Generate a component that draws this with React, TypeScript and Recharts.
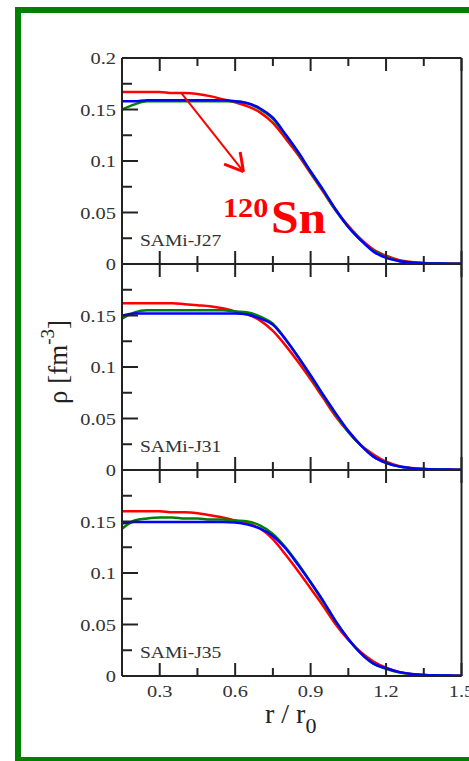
import { LineChart, Line, XAxis, YAxis, ReferenceLine } from "recharts";

// r / r0 grid
const rValues = [
  0.15, 0.2, 0.25, 0.3, 0.35, 0.4, 0.45, 0.5, 0.55, 0.6, 0.65, 0.7, 0.75, 0.8,
  0.85, 0.9, 0.95, 1.0, 1.05, 1.1, 1.15, 1.2, 1.25, 1.3, 1.35, 1.4, 1.45, 1.5,
];

// SAMi-J27
const red27 = [0.167, 0.167, 0.167, 0.167, 0.166, 0.166, 0.165, 0.163, 0.16, 0.157, 0.153, 0.147, 0.137, 0.122, 0.106, 0.088, 0.07, 0.052, 0.037, 0.024, 0.014, 0.008, 0.004, 0.002, 0.001, 0.0006, 0.0004, 0.0002];
const green27 = [0.15, 0.155, 0.158, 0.158, 0.158, 0.158, 0.158, 0.158, 0.158, 0.158, 0.156, 0.15, 0.141, 0.125, 0.108, 0.089, 0.071, 0.052, 0.036, 0.023, 0.013, 0.007, 0.003, 0.0015, 0.0008, 0.0005, 0.0003, 0.0002];
const blue27 = [0.158, 0.158, 0.159, 0.159, 0.159, 0.159, 0.159, 0.159, 0.159, 0.158, 0.156, 0.151, 0.142, 0.126, 0.109, 0.09, 0.072, 0.053, 0.036, 0.023, 0.012, 0.006, 0.003, 0.0015, 0.0008, 0.0005, 0.0003, 0.0002];

// SAMi-J31
const red31 = [0.162, 0.162, 0.162, 0.162, 0.162, 0.161, 0.16, 0.159, 0.157, 0.154, 0.151, 0.145, 0.135, 0.121, 0.105, 0.088, 0.07, 0.052, 0.037, 0.024, 0.015, 0.008, 0.004, 0.002, 0.001, 0.0006, 0.0004, 0.0002];
const green31 = [0.147, 0.153, 0.155, 0.155, 0.155, 0.155, 0.155, 0.155, 0.155, 0.154, 0.153, 0.149, 0.142, 0.127, 0.11, 0.091, 0.072, 0.054, 0.037, 0.024, 0.013, 0.007, 0.0035, 0.0018, 0.001, 0.0006, 0.0004, 0.0002];
const blue31 = [0.15, 0.152, 0.152, 0.152, 0.152, 0.152, 0.152, 0.152, 0.152, 0.152, 0.151, 0.147, 0.141, 0.127, 0.11, 0.092, 0.073, 0.055, 0.038, 0.024, 0.013, 0.007, 0.0035, 0.0018, 0.001, 0.0006, 0.0004, 0.0002];

// SAMi-J35
const red35 = [0.16, 0.16, 0.16, 0.16, 0.159, 0.159, 0.158, 0.156, 0.154, 0.151, 0.148, 0.143, 0.133, 0.118, 0.102, 0.085, 0.068, 0.05, 0.035, 0.023, 0.014, 0.008, 0.004, 0.002, 0.001, 0.0006, 0.0004, 0.0002];
const green35 = [0.143, 0.151, 0.153, 0.154, 0.154, 0.153, 0.153, 0.152, 0.152, 0.151, 0.15, 0.146, 0.138, 0.125, 0.109, 0.091, 0.072, 0.053, 0.036, 0.022, 0.012, 0.007, 0.0035, 0.0018, 0.001, 0.0006, 0.0004, 0.0002];
const blue35 = [0.148, 0.1495, 0.1495, 0.1495, 0.1495, 0.1495, 0.1495, 0.1495, 0.1495, 0.149, 0.147, 0.143, 0.136, 0.124, 0.108, 0.091, 0.073, 0.053, 0.036, 0.022, 0.012, 0.0075, 0.004, 0.002, 0.001, 0.0006, 0.0004, 0.0002];

const xTicks = [0.3, 0.45, 0.6, 0.75, 0.9, 1.05, 1.2, 1.35, 1.5];
const xLabels = [0.3, 0.6, 0.9, 1.2, 1.5];
const yTicks = [0, 0.025, 0.05, 0.075, 0.1, 0.125, 0.15, 0.175, 0.2];
const yLabels = [0, 0.05, 0.1, 0.15, 0.2];

// arrow in the top panel (data coords)
const arrowShaft = [{ x: 0.387, y: 0.1657 }, { x: 0.633, y: 0.0896 }];
const arrowArmA = [{ x: 0.556, y: 0.097 }, { x: 0.633, y: 0.0896 }];
const arrowArmB = [{ x: 0.62, y: 0.1087 }, { x: 0.633, y: 0.0896 }];

const FONT = "'Liberation Serif', 'Times New Roman', serif";
const AXIS = "#222";
const PLOT_H = 206;

const isMajor = (v: number, list: number[]) => list.some((m) => Math.abs(m - v) < 1e-9);

// ticks point into the plot, labels sit outside
const xTick = (dir: number, showLabel: boolean) => (p: any) => {
  const v = p.payload.value;
  const major = isMajor(v, xLabels);
  const len = major ? 13 : 8;
  return (
    <g>
      <line x1={p.x} y1={p.y} x2={p.x} y2={p.y - dir * len} stroke={AXIS} strokeWidth={2} />
      {showLabel && major && (
        <text
          transform={`translate(${p.x},${p.y + 21}) scale(1.2,1)`}
          textAnchor="middle"
          fontFamily={FONT}
          fontSize={17}
          fill="#333"
        >
          {String(v)}
        </text>
      )}
    </g>
  );
};

const yTick = (dir: number, showLabel: boolean, showTop: boolean) => (p: any) => {
  const v = p.payload.value;
  const major = isMajor(v, yLabels);
  const len = major ? 16 : 10;
  const label = showLabel && major && (showTop || v < 0.19);
  return (
    <g>
      <line x1={p.x} y1={p.y} x2={p.x + dir * len} y2={p.y} stroke={AXIS} strokeWidth={2} />
      {label && (
        <text
          transform={`translate(${p.x - 6},${p.y}) scale(1.2,1)`}
          textAnchor="end"
          dy="0.36em"
          fontFamily={FONT}
          fontSize={17}
          fill="#333"
        >
          {String(v)}
        </text>
      )}
    </g>
  );
};

interface PanelProps {
  red: number[];
  green: number[];
  blue: number[];
  top: number;
  first?: boolean;
  last?: boolean;
}

function Panel({ red, green, blue, top, first, last }: PanelProps) {
  const data = rValues.map((r, i) => ({ r, red: red[i], green: green[i], blue: blue[i] }));
  const bottomSpace = last ? 40 : 10;
  const axisLine = { stroke: AXIS, strokeWidth: 2 };
  return (
    <div style={{ position: "absolute", left: 0, top: top - 10 }}>
      <LineChart
        width={469}
        height={10 + PLOT_H + bottomSpace}
        data={data}
        margin={{ top: 9, right: 6.5, bottom: bottomSpace - 1, left: 121 }}
      >
        <XAxis
          xAxisId="b"
          dataKey="r"
          type="number"
          domain={[0.15, 1.5]}
          allowDataOverflow
          ticks={xTicks}
          interval={0}
          height={1}
          tickSize={0}
          tickMargin={0}
          tickLine={false}
          axisLine={axisLine}
          tick={xTick(1, !!last)}
        />
        <XAxis
          xAxisId="t"
          orientation="top"
          dataKey="r"
          type="number"
          domain={[0.15, 1.5]}
          allowDataOverflow
          ticks={xTicks}
          interval={0}
          height={1}
          tickSize={0}
          tickMargin={0}
          tickLine={false}
          axisLine={axisLine}
          tick={xTick(-1, false)}
        />
        <YAxis
          yAxisId="l"
          type="number"
          domain={[0, 0.2]}
          ticks={yTicks}
          interval={0}
          width={1}
          tickSize={0}
          tickMargin={0}
          tickLine={false}
          axisLine={axisLine}
          tick={yTick(1, true, !!first)}
        />
        <YAxis
          yAxisId="r"
          orientation="right"
          type="number"
          domain={[0, 0.2]}
          ticks={yTicks}
          interval={0}
          width={1}
          tickSize={0}
          tickMargin={0}
          tickLine={false}
          axisLine={axisLine}
          tick={yTick(-1, false, false)}
        />
        <Line xAxisId="b" yAxisId="l" type="monotone" dataKey="red" stroke="#ff0000" strokeWidth={2.5} dot={false} isAnimationActive={false} />
        <Line xAxisId="b" yAxisId="l" type="monotone" dataKey="green" stroke="#008000" strokeWidth={2.5} dot={false} isAnimationActive={false} />
        <Line xAxisId="b" yAxisId="l" type="monotone" dataKey="blue" stroke="#0000ff" strokeWidth={2.5} dot={false} isAnimationActive={false} />
        {first && (
          <ReferenceLine xAxisId="b" yAxisId="l" segment={arrowShaft} stroke="#ff0000" strokeWidth={2} />
        )}
        {first && (
          <ReferenceLine xAxisId="b" yAxisId="l" segment={arrowArmA} stroke="#ff0000" strokeWidth={3} />
        )}
        {first && (
          <ReferenceLine xAxisId="b" yAxisId="l" segment={arrowArmB} stroke="#ff0000" strokeWidth={3} />
        )}
      </LineChart>
    </div>
  );
}

export default function App() {
  const panelTops = [58, 264, 470];
  const names = ["SAMi-J27", "SAMi-J31", "SAMi-J35"];
  return (
    <div
      style={{
        position: "absolute",
        left: 0,
        top: 0,
        width: 469,
        height: 761,
        overflow: "hidden",
        background: "#fff",
      }}
    >
      <div
        style={{
          position: "absolute",
          left: 15,
          top: 7,
          width: 470,
          height: 756,
          border: "6px solid #008000",
          boxSizing: "border-box",
        }}
      />
      <Panel red={red27} green={green27} blue={blue27} top={panelTops[0]} first />
      <Panel red={red31} green={green31} blue={blue31} top={panelTops[1]} />
      <Panel red={red35} green={green35} blue={blue35} top={panelTops[2]} last />

      <svg
        width={469}
        height={761}
        style={{ position: "absolute", left: 0, top: 0, pointerEvents: "none" }}
      >
        {names.map((n, i) => (
          <text
            key={n}
            transform={`translate(140,${panelTops[i] + PLOT_H - 18}) scale(1.15,1)`}
            fontFamily={FONT}
            fontSize={17}
            fill="#333"
          >
            {n}
          </text>
        ))}
        <text
          transform="translate(223,217) scale(1.08,1)"
          fontFamily={FONT}
          fontWeight="bold"
          fontSize={28}
          fill="#ff0000"
        >
          120
        </text>
        <text
          transform="translate(271,233) scale(1.08,1)"
          fontFamily={FONT}
          fontWeight="bold"
          fontSize={46}
          fill="#ff0000"
        >
          Sn
        </text>
        <text
          transform="translate(67,362) rotate(-90)"
          textAnchor="middle"
          fontFamily={FONT}
          fontSize={27}
          fill="#222"
        >
          ρ [fm
          <tspan fontSize={19} dy={-13}>-3</tspan>
          <tspan dy={13}>]</tspan>
        </text>
        <text x={265} y={723} fontFamily={FONT} fontSize={28} fill="#222">
          r / r
          <tspan fontSize={22} dy={10}>0</tspan>
        </text>
      </svg>
    </div>
  );
}
